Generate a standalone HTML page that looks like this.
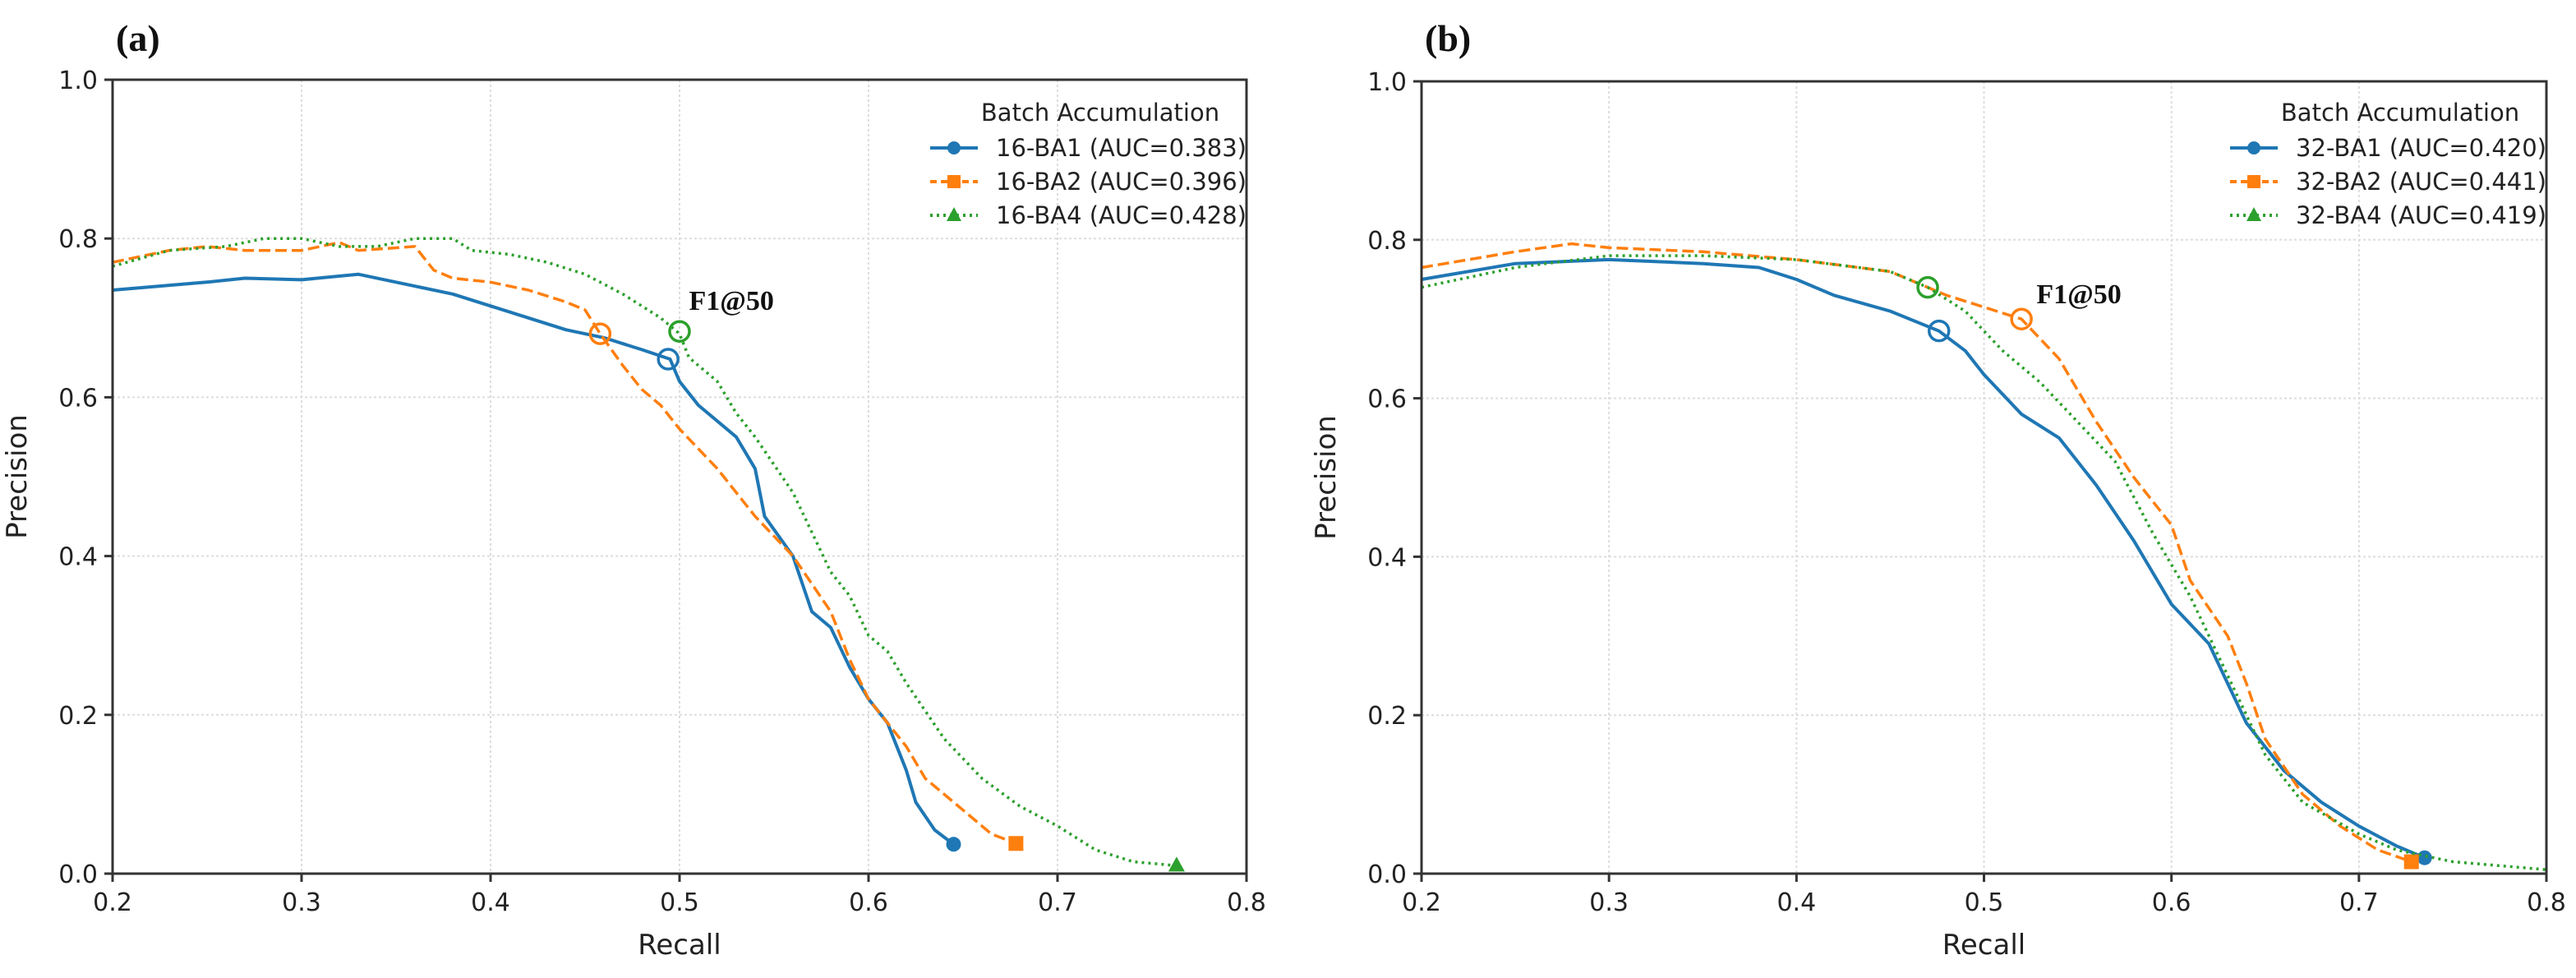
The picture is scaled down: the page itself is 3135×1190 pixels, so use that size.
<!DOCTYPE html>
<html><head><meta charset="utf-8">
<style>
html,body{margin:0;padding:0;background:#fff;}
svg{display:block;}
text{font-family:"DejaVu Sans","Liberation Sans",sans-serif;fill:#222;}
.ser{font-family:"Liberation Serif",serif;font-weight:bold;fill:#111;}
</style></head>
<body>
<svg id="fig" width="3135" height="1190" viewBox="0 0 3135 1190" xmlns="http://www.w3.org/2000/svg"></svg>
<script>
// ---------- data ----------
const xTicks = [0.2,0.3,0.4,0.5,0.6,0.7,0.8];
const yTicks = [0.0,0.2,0.4,0.6,0.8,1.0];
const panelLabels = ["(a)","(b)"];
const legendTitle = "Batch Accumulation";
const namesA = ["16-BA1 (AUC=0.383)","16-BA2 (AUC=0.396)","16-BA4 (AUC=0.428)"];
const namesB = ["32-BA1 (AUC=0.420)","32-BA2 (AUC=0.441)","32-BA4 (AUC=0.419)"];

const a1R=[0.2,0.25,0.27,0.3,0.33,0.36,0.38,0.4,0.42,0.44,0.46,0.48,0.495,0.5,0.51,0.53,0.54,0.545,0.56,0.57,0.58,0.59,0.6,0.61,0.62,0.625,0.635,0.645];
const a1P=[0.735,0.745,0.75,0.748,0.755,0.74,0.73,0.715,0.7,0.685,0.675,0.66,0.648,0.62,0.59,0.55,0.51,0.45,0.4,0.33,0.31,0.26,0.22,0.19,0.13,0.09,0.055,0.037];
const a2R=[0.2,0.23,0.25,0.27,0.3,0.32,0.33,0.36,0.37,0.38,0.4,0.42,0.44,0.45,0.458,0.47,0.48,0.49,0.5,0.52,0.54,0.56,0.58,0.59,0.6,0.61,0.62,0.63,0.65,0.665,0.678];
const a2P=[0.77,0.785,0.79,0.785,0.785,0.795,0.785,0.79,0.76,0.75,0.745,0.735,0.72,0.71,0.68,0.64,0.61,0.59,0.56,0.51,0.45,0.4,0.33,0.27,0.22,0.19,0.16,0.12,0.08,0.05,0.038];
const a3R=[0.2,0.23,0.26,0.28,0.3,0.32,0.34,0.36,0.38,0.39,0.41,0.43,0.45,0.47,0.49,0.5,0.505,0.52,0.53,0.54,0.56,0.57,0.58,0.59,0.6,0.61,0.62,0.64,0.66,0.68,0.7,0.72,0.74,0.763];
const a3P=[0.765,0.785,0.79,0.8,0.8,0.79,0.79,0.8,0.8,0.785,0.78,0.77,0.755,0.73,0.7,0.68,0.65,0.62,0.58,0.55,0.48,0.43,0.38,0.35,0.3,0.28,0.24,0.17,0.12,0.085,0.06,0.03,0.015,0.01];
const aF1R=[0.494,0.458,0.5];
const aF1P=[0.648,0.68,0.683];

const b1R=[0.2,0.25,0.3,0.35,0.38,0.4,0.42,0.45,0.476,0.49,0.5,0.52,0.54,0.56,0.58,0.6,0.62,0.63,0.64,0.66,0.68,0.7,0.72,0.735];
const b1P=[0.75,0.77,0.775,0.77,0.765,0.75,0.73,0.71,0.685,0.66,0.63,0.58,0.55,0.49,0.42,0.34,0.29,0.24,0.19,0.13,0.09,0.06,0.035,0.02];
const b2R=[0.2,0.25,0.28,0.3,0.35,0.4,0.45,0.48,0.5,0.52,0.54,0.56,0.58,0.6,0.61,0.63,0.64,0.65,0.67,0.69,0.71,0.728];
const b2P=[0.765,0.785,0.795,0.79,0.785,0.775,0.76,0.73,0.715,0.7,0.65,0.57,0.5,0.44,0.37,0.3,0.24,0.17,0.1,0.06,0.03,0.015];
const b3R=[0.2,0.25,0.3,0.35,0.4,0.45,0.47,0.49,0.51,0.53,0.55,0.57,0.59,0.61,0.63,0.65,0.67,0.7,0.72,0.75,0.8];
const b3P=[0.74,0.765,0.78,0.78,0.775,0.76,0.74,0.71,0.66,0.62,0.57,0.52,0.43,0.35,0.25,0.15,0.09,0.05,0.03,0.015,0.005];
const bF1R=[0.476,0.52,0.47];
const bF1P=[0.685,0.7,0.74];

const colors=["#1f77b4","#ff7f0e","#2ca02c"];
const dashes=["none","14 6","3 5"];
const NS="http://www.w3.org/2000/svg";
const svg=document.getElementById('fig');
function mk(tag,attrs,parent){const e=document.createElementNS(NS,tag);for(const k in attrs)e.setAttribute(k,attrs[k]);(parent||svg).appendChild(e);return e;}

function panel(idx,X0,X1,Y0,Y1,series,names,f1R,f1P,f1Label,markerEnd){
  const g=mk('g',{});
  
  
  const sx=v=>X0+(v-0.2)/0.6*(X1-X0);
  const sy=v=>Y1-v*(Y1-Y0);
  // grid
  xTicks.forEach(t=>{const l=mk('line',{x1:sx(t),x2:sx(t),y1:Y0,y2:Y1,stroke:'#ddd','stroke-width':2,'stroke-dasharray':'3 3'},g);
    });
  yTicks.forEach(t=>{const l=mk('line',{x1:X0,x2:X1,y1:sy(t),y2:sy(t),stroke:'#ddd','stroke-width':2,'stroke-dasharray':'3 3'},g);
    });
  // series
  series.forEach((s,i)=>{
    const pts=s[0].map((r,j)=>sx(r).toFixed(1)+','+sy(s[1][j]).toFixed(1)).join(' ');
    const pl=mk('polyline',{points:pts,fill:'none',stroke:colors[i],'stroke-width':i==0?4:3.5,'stroke-dasharray':dashes[i],'stroke-linejoin':'round'},g);
    
    
    const n=s[0].length-1, ex=sx(s[0][n]), ey=sy(s[1][n]);
    if(markerEnd[i]){
      let m;
      if(i==0) m=mk('circle',{cx:ex,cy:ey,r:9,fill:colors[i]},g);
      else if(i==1) m=mk('rect',{x:ex-9,y:ey-9,width:18,height:18,fill:colors[i]},g);
      else m=mk('polygon',{points:`${ex},${ey-11} ${ex-10},${ey+7} ${ex+10},${ey+7}`,fill:colors[i]},g);
      
      
    }
  });
  f1R.forEach((r,i)=>{const c=mk('circle',{cx:sx(r),cy:sy(f1P[i]),r:12,fill:'none',stroke:colors[i],'stroke-width':3.5},g);
    });
  const fl=mk('text',{x:sx(f1Label[0]),y:sy(f1Label[1]),'font-size':34,class:'ser'},g);fl.textContent='F1@50';
  
  // axes box
  const box=mk('rect',{x:X0,y:Y0,width:X1-X0,height:Y1-Y0,fill:'none',stroke:'#333','stroke-width':3},g);
  
  // ticks
  xTicks.forEach(t=>{mk('line',{x1:sx(t),x2:sx(t),y1:Y1,y2:Y1+10,stroke:'#333','stroke-width':3},g);
    const tx=mk('text',{x:sx(t),y:Y1+45,'font-size':30,'text-anchor':'middle'},g);tx.textContent=t.toFixed(1);
    });
  yTicks.forEach(t=>{mk('line',{x1:X0-10,x2:X0,y1:sy(t),y2:sy(t),stroke:'#333','stroke-width':3},g);
    const tx=mk('text',{x:X0-18,y:sy(t)+11,'font-size':30,'text-anchor':'end'},g);tx.textContent=t.toFixed(1);
    });
  const xl=mk('text',{x:(X0+X1)/2,y:Y1+98,'font-size':34,'text-anchor':'middle'},g);xl.textContent='Recall';
  
  const yx=X0-105, yy=(Y0+Y1)/2;
  const yl=mk('text',{x:yx,y:yy,'font-size':34,'text-anchor':'middle',transform:`rotate(-90 ${yx} ${yy})`},g);yl.textContent='Precision';
  
  const pl=mk('text',{x:X0+4,y:62,'font-size':46,class:'ser'},g);pl.textContent=panelLabels[idx];
  
  // legend
  const lg=mk('g',{},g);
  
  
  const LX=X1-385;
  const lt=mk('text',{x:LX+207,y:147,'font-size':29,'text-anchor':'middle'},lg);lt.textContent=legendTitle;
  
  names.forEach((nm,i)=>{
    const y=180+i*41;
    mk('line',{x1:LX,x2:LX+58,y1:y,y2:y,stroke:colors[i],'stroke-width':4,'stroke-dasharray':dashes[i]=='none'?'none':(i==1?'8 5':'3 5')},lg);
    if(i==0) mk('circle',{cx:LX+29,cy:y,r:8,fill:colors[i]},lg);
    else if(i==1) mk('rect',{x:LX+21,y:y-8,width:16,height:16,fill:colors[i]},lg);
    else mk('polygon',{points:`${LX+29},${y-10} ${LX+20},${y+7} ${LX+38},${y+7}`,fill:colors[i]},lg);
    const t=mk('text',{x:LX+80,y:y+10,'font-size':29},lg);t.textContent=nm;
    
  });
}
panel(0,137,1517,97,1063,[[a1R,a1P],[a2R,a2P],[a3R,a3P]],namesA,aF1R,aF1P,[0.505,0.71],[true,true,true]);
panel(1,1730,3099,99,1063,[[b1R,b1P],[b2R,b2P],[b3R,b3P]],namesB,bF1R,bF1P,[0.528,0.72],[true,true,false]);
</script>
</body></html>
